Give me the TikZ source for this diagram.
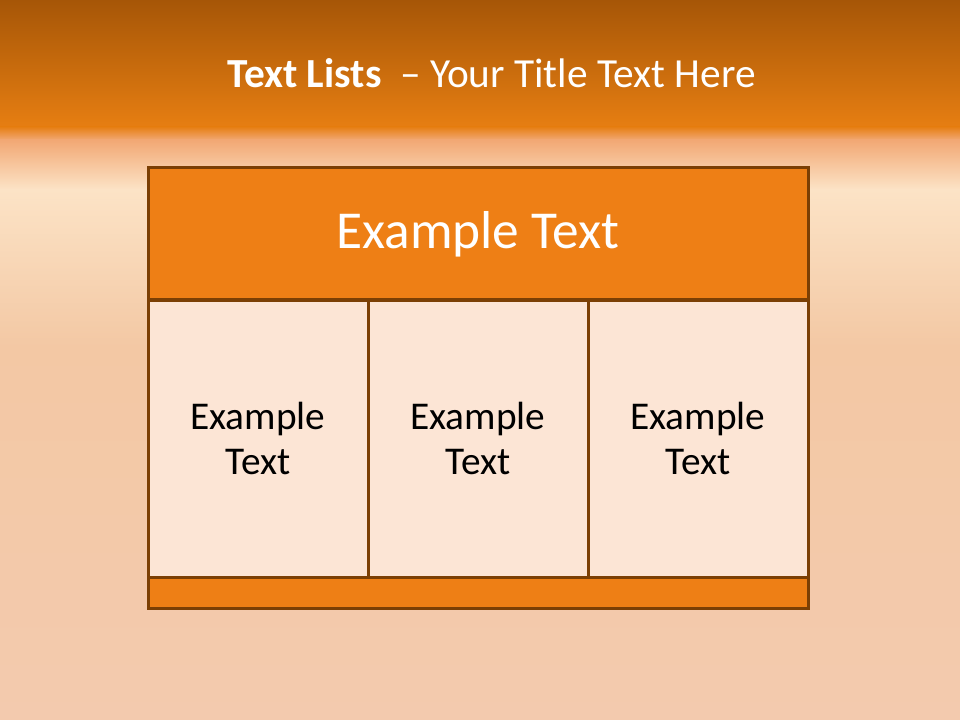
\documentclass[tikz,border=0pt]{standalone}
\usepackage{fontspec}
\setmainfont{Carlito}
\usetikzlibrary{positioning}
\definecolor{barTop}{HTML}{A65607}
\definecolor{barBot}{HTML}{E67E12}
\definecolor{fadeMid}{HTML}{F2A874}
\definecolor{fieldTop}{HTML}{FCE3C6}
\definecolor{fieldMid}{HTML}{F3C8A4}
\definecolor{fieldBot}{HTML}{F3CAAE}
\definecolor{edge}{HTML}{7B3F04}
\definecolor{bandfill}{HTML}{EE7F15}
\definecolor{cellfill}{HTML}{FCE5D5}

\begin{document}
\begin{tikzpicture}[
      x=1pt, y=-1pt,
      band/.style={draw=edge, line width=2.25pt, fill=bandfill, minimum width=495pt, inner sep=0pt},
      cell/.style={draw=edge, line width=2.25pt, fill=cellfill, minimum width=165pt, minimum height=207.75pt,
                   text width=150pt, align=center, inner sep=0pt, font=\fontsize{29.5}{34}\selectfont}
    ]
    \useasboundingbox (0,0) rectangle (720,540);
    % background
    \shade[top color=barTop, bottom color=barBot] (0,0) rectangle (720,95);
    \shade[top color=barBot, bottom color=fadeMid] (0,95) rectangle (720,105);
    \shade[top color=fadeMid, bottom color=fieldTop] (0,105) rectangle (720,142);
    \shade[top color=fieldTop, bottom color=fieldMid] (0,142) rectangle (720,260);
    \shade[top color=fieldMid, bottom color=fieldBot] (0,260) rectangle (720,540);

    \node[anchor=base, text=white, font=\fontsize{31}{37}\selectfont] (title) at (368.6,66)
      {\textbf{Text Lists}\ \ – Your Title Text Here};

    \node[band, minimum height=99pt, text=white, font=\fontsize{40}{48}\selectfont] (head) at (358.5,175.5) {Example Text};
    \node[cell] (c1) at (193.5,328.9) {Example\\Text};
    \node[cell] (c2) at (358.5,328.9) {Example\\Text};
    \node[cell] (c3) at (523.5,328.9) {Example\\Text};
    \node[band, minimum height=23.25pt] (foot) at (358.5,444.4) {};
\end{tikzpicture}
\end{document}
